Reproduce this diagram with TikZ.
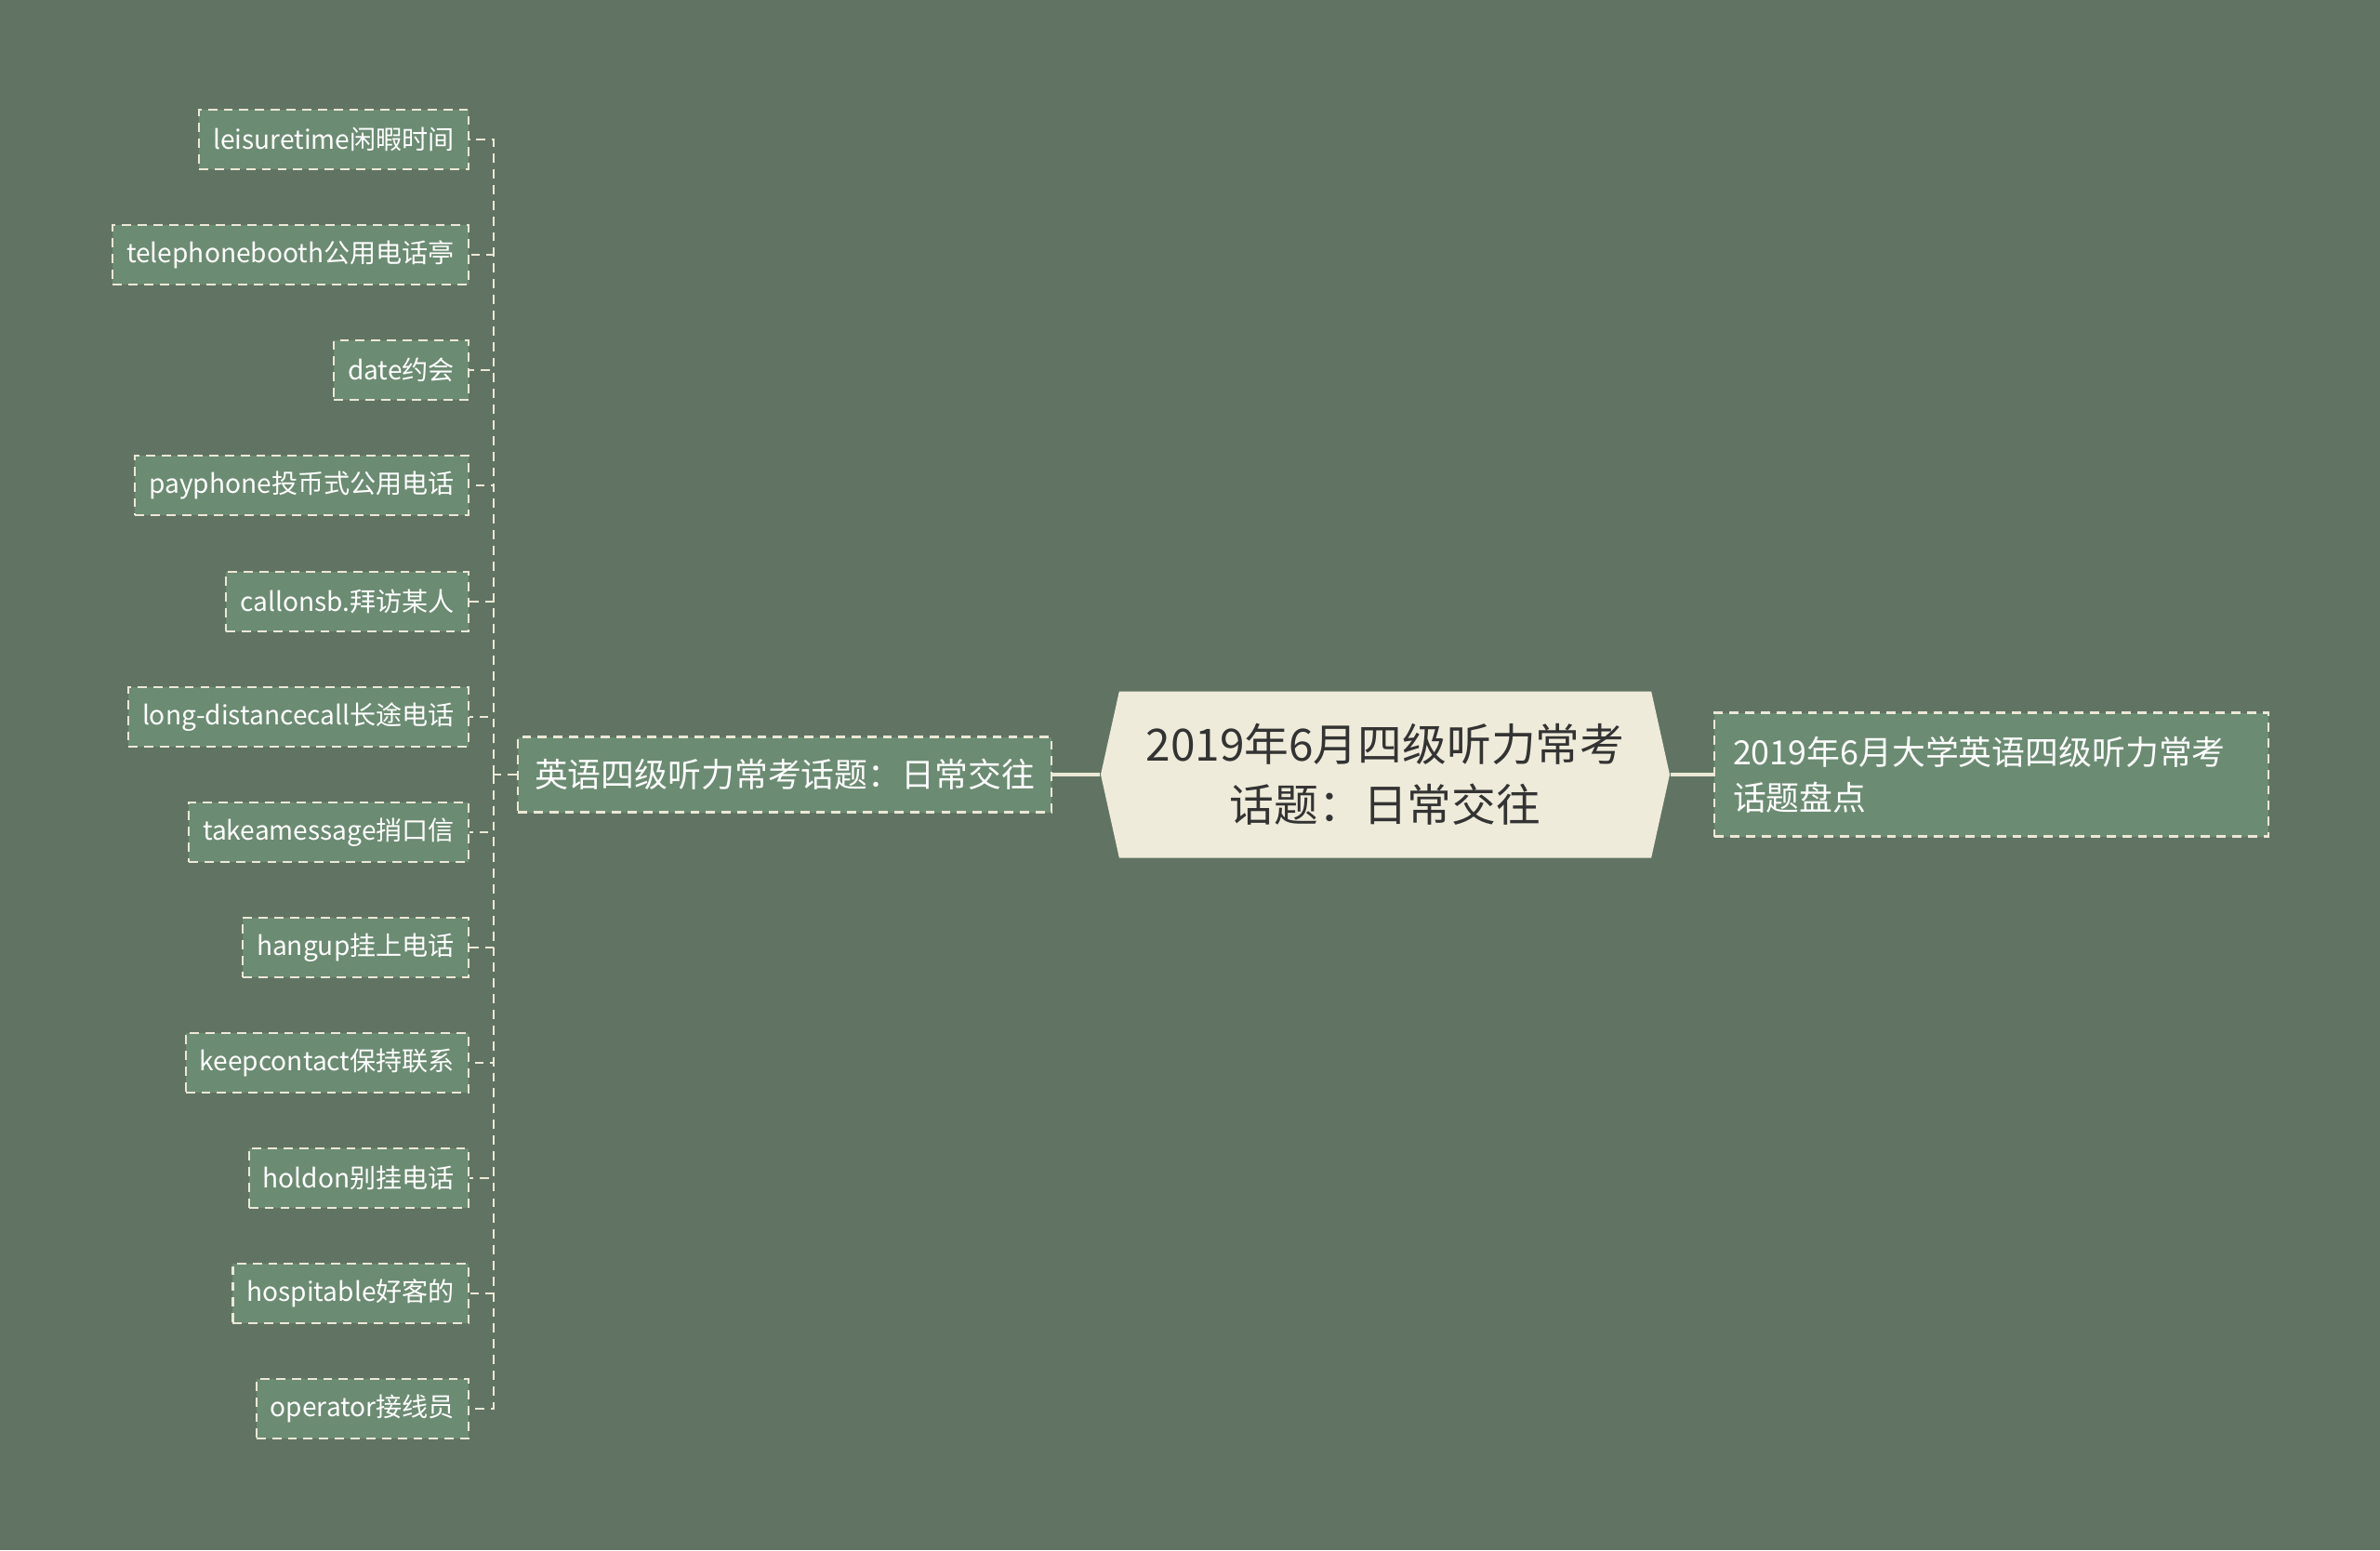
\documentclass[tikz,border=0pt]{standalone}
\usepackage{fontspec}
\setmainfont{Noto Sans CJK SC}
\usetikzlibrary{shapes.symbols}
\definecolor{bgcol}{RGB}{97,116,99}
\definecolor{boxcol}{RGB}{107,139,114}
\definecolor{rootcol}{RGB}{239,235,218}
\definecolor{linecol}{RGB}{236,232,214}
\tikzset{
  leaf/.style={draw=linecol, fill=boxcol, dash pattern=on 2.8pt off 2pt, line width=0.6pt,
    text=white, font=\fontsize{8}{10}\selectfont, anchor=east, minimum height=0.64cm,
    inner xsep=0.15cm, inner ysep=0pt},
  link/.style={draw=linecol, dash pattern=on 2.8pt off 2pt, line width=0.6pt},
  bond/.style={draw=linecol, line width=1.1pt}
}
\begin{document}
\begin{tikzpicture}
\fill[bgcol] (0,0) rectangle (25.6,16.67);
\useasboundingbox (0,0) rectangle (25.6,16.67);

\node[signal, signal to=west and east, signal pointer angle=155, fill=rootcol,
  text=black!80, font=\fontsize{13.6}{18.5}\selectfont, align=center,
  minimum width=6.12cm, minimum height=1.79cm, inner sep=0pt] (root) at (14.90,8.34)
  {2019年6月四级听力常考\\话题：日常交往};
\node[draw=linecol, fill=boxcol, dash pattern=on 2.8pt off 2pt, line width=0.6pt, text=white,
  font=\fontsize{10.2}{13}\selectfont, minimum width=5.74cm, minimum height=0.81cm] (mid) at (8.44,8.34)
  {英语四级听力常考话题：日常交往};
\node[draw=linecol, fill=boxcol, dash pattern=on 2.8pt off 2pt, line width=0.6pt, text=white,
  font=\fontsize{10.2}{14}\selectfont, align=left, text width=5.56cm, minimum height=1.33cm,
  inner xsep=0.2cm, anchor=west] (side) at (18.43,8.34)
  {2019年6月大学英语四级听力常考\\话题盘点};

\node[leaf] (l1) at (5.05,15.17) {leisuretime闲暇时间};
\node[leaf] (l2) at (5.05,13.93) {telephonebooth公用电话亭};
\node[leaf] (l3) at (5.05,12.69) {date约会};
\node[leaf] (l4) at (5.05,11.45) {payphone投币式公用电话};
\node[leaf] (l5) at (5.05,10.20) {callonsb.拜访某人};
\node[leaf] (l6) at (5.05,8.96) {long-distancecall长途电话};
\node[leaf] (l7) at (5.05,7.72) {takeamessage捎口信};
\node[leaf] (l8) at (5.05,6.48) {hangup挂上电话};
\node[leaf] (l9) at (5.05,5.24) {keepcontact保持联系};
\node[leaf] (l10) at (5.05,4.00) {holdon别挂电话};
\node[leaf] (l11) at (5.05,2.76) {hospitable好客的};
\node[leaf] (l12) at (5.05,1.52) {operator接线员};

\path[bond] (root.west) -- (mid.east);
\path[bond] (root.east) -- (side.west);

\path[link] (mid.west) -- ++(-0.25,0) coordinate (trunk);
\path[link] (trunk) |- (l1.east);
\path[link] (trunk) |- (l2.east);
\path[link] (trunk) |- (l3.east);
\path[link] (trunk) |- (l4.east);
\path[link] (trunk) |- (l5.east);
\path[link] (trunk) |- (l6.east);
\path[link] (trunk) |- (l7.east);
\path[link] (trunk) |- (l8.east);
\path[link] (trunk) |- (l9.east);
\path[link] (trunk) |- (l10.east);
\path[link] (trunk) |- (l11.east);
\path[link] (trunk) |- (l12.east);
\end{tikzpicture}
\end{document}
